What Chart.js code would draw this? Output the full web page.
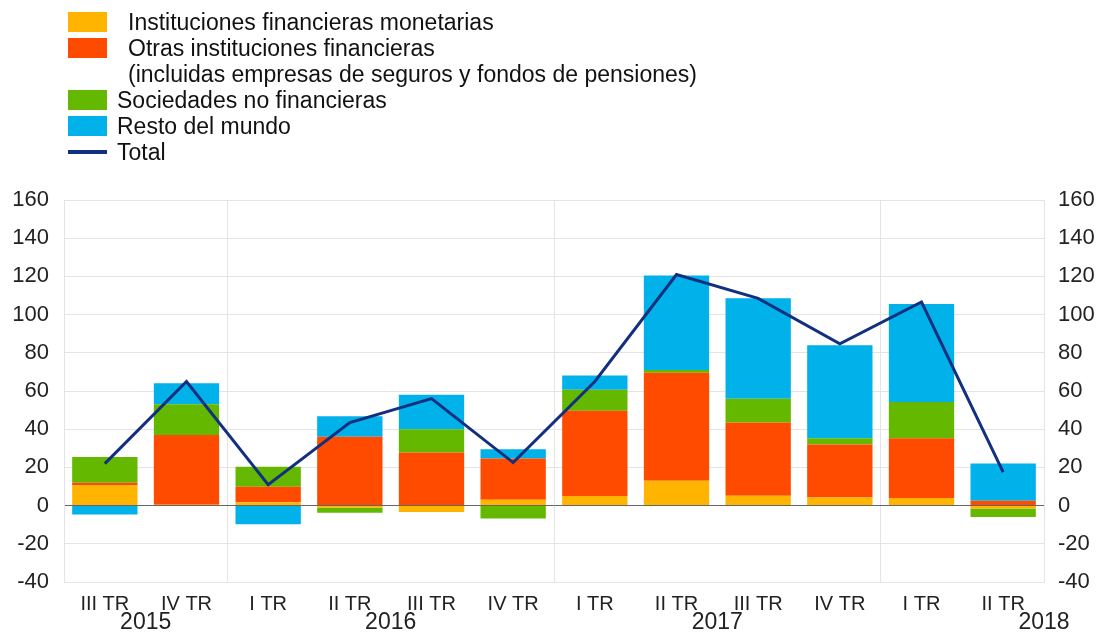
<!DOCTYPE html>
<html lang="es">
<head>
<meta charset="UTF-8" />
<title>Tenedores por sector</title>
<script src="https://cdn.jsdelivr.net/npm/chart.js@4.4.1/dist/chart.umd.min.js"></script>
<style>
  body { margin: 0; background: #fff; font-family: "Liberation Sans", Arial, sans-serif; }
  #wrap { position: relative; width: 1103px; height: 633px; }
  #legend { position: absolute; left: 68px; top: 9px; font-size: 23px; color: #111; line-height: 26px; }
  .item { display: flex; align-items: flex-start; }
  .box { width: 39px; height: 20px; margin-top: 3px; flex: none; }
  .lineKey { width: 39px; height: 4px; margin-top: 11px; flex: none; }
  .txt { margin-left: 10px; white-space: pre-line; }
</style>
</head>
<body>
<div id="wrap">
  <canvas id="myChart"></canvas>
  <div id="legend"></div>
</div>

<script>
// categorias (trimestres) y años
var quarters = ['III TR', 'IV TR', 'I TR', 'II TR', 'III TR', 'IV TR', 'I TR', 'II TR', 'III TR', 'IV TR', 'I TR', 'II TR'];
var years = ['2015', '2016', '2017', '2018'];
var yearPos = [0.5, 3.5, 7.5, 11.5];

var names = [
  'Instituciones financieras monetarias',
  'Otras instituciones financieras\n(incluidas empresas de seguros y fondos de pensiones)',
  'Sociedades no financieras',
  'Resto del mundo',
  'Total'
];

// valores (mm de euros)
var monetarias = [10.5, 0.5, 1.7, -1.0, -3.3, 3.0, 5.0, 13.0, 5.2, 4.3, 4.0, -1.5];
var otras      = [1.5, 36.5, 8.2, 36.0, 27.8, 21.6, 44.6, 56.6, 38.3, 27.7, 31.3, 2.5];
var sociedades = [13.5, 16.0, 10.4, -2.8, 12.2, -6.8, 11.0, 1.4, 12.5, 3.3, 19.0, -4.5];
var resto      = [-4.7, 11.0, -9.7, 10.8, 18.0, 4.9, 7.5, 49.5, 52.5, 48.7, 51.2, 19.5];
var total      = [22, 65, 11, 43.5, 56, 22.5, 65, 121, 108.5, 84.7, 106.6, 17.5];

var yTicks = { min: -40, max: 160, step: 20 };

var colors = ['#FFB400', '#FF4B00', '#65B800', '#00B1EA', '#12307F'];
var series = [monetarias, otras, sociedades, resto];

// leyenda
var leg = document.getElementById('legend');
names.forEach(function (n, i) {
  var row = document.createElement('div');
  row.className = 'item';
  var key = document.createElement('div');
  key.className = i < 4 ? 'box' : 'lineKey';
  key.style.background = colors[i];
  var t = document.createElement('div');
  t.className = 'txt';
  if (i < 2) t.style.marginLeft = '21px';
  t.textContent = n;
  row.appendChild(key);
  row.appendChild(t);
  leg.appendChild(row);
});

var datasets = series.map(function (d, i) {
  return {
    type: 'bar',
    label: names[i],
    data: d,
    backgroundColor: colors[i],
    borderWidth: 0,
    barPercentage: 0.8,
    categoryPercentage: 1.0,
    order: 1,
    yAxisID: 'y'
  };
});
datasets.push({
  type: 'line',
  label: 'Total',
  data: total,
  borderColor: colors[4],
  borderWidth: 3,
  pointRadius: 0,
  tension: 0,
  fill: false,
  stack: 'total',
  order: 0,
  yAxisID: 'y'
});

var yearRow = {
  id: 'yearRow',
  afterDraw: function (chart) {
    var c = chart.ctx, xs = chart.scales.x;
    c.save();
    c.font = '23px "Liberation Sans", Arial, sans-serif';
    c.fillStyle = '#222';
    c.textAlign = 'center';
    c.textBaseline = 'middle';
    for (var i = 0; i < years.length; i++) {
      c.fillText(years[i], xs.getPixelForValue(yearPos[i]), 623);
    }
    c.restore();
  }
};

var gridGray = '#e4e4e4';
var tickFont = { family: '"Liberation Sans", Arial, sans-serif', size: 22 };

var ctx = document.getElementById('myChart').getContext('2d');
var myChart = new Chart(ctx, {
  data: { labels: quarters, datasets: datasets },
  plugins: [yearRow],
  options: {
    responsive: true,
    maintainAspectRatio: false,
    animation: false,
    layout: { padding: { top: 200, left: 0, right: 0, bottom: 0 } },
    plugins: { legend: { display: false }, tooltip: { enabled: false } },
    scales: {
      x: {
        stacked: true,
        afterFit: function (s) { s.height = 51; },
        grid: {
          offset: true,
          drawTicks: false,
          color: function (c) { return [2, 6, 10].indexOf(c.index) >= 0 ? gridGray : 'rgba(0,0,0,0)'; }
        },
        border: { display: true, color: gridGray },
        ticks: {
          font: { family: '"Liberation Sans Narrow", "Liberation Sans", Arial, sans-serif', size: 20 },
          color: '#222',
          padding: 10,
          maxRotation: 0,
          autoSkip: false
        }
      },
      y: {
        stacked: true,
        position: 'left',
        min: yTicks.min,
        max: yTicks.max,
        afterFit: function (s) { s.width = 64; },
        grid: {
          drawTicks: false,
          color: function (c) { return c.tick && c.tick.value === 0 ? '#666' : gridGray; }
        },
        border: { display: true, color: gridGray },
        ticks: { stepSize: yTicks.step, font: tickFont, color: '#222', padding: 15 }
      },
      y2: {
        position: 'right',
        min: yTicks.min,
        max: yTicks.max,
        afterFit: function (s) { s.width = 59; },
        grid: { drawOnChartArea: false, drawTicks: false },
        border: { display: true, color: gridGray },
        ticks: { stepSize: yTicks.step, font: tickFont, color: '#222', padding: 14 }
      }
    }
  }
});
</script>
</body>
</html>
